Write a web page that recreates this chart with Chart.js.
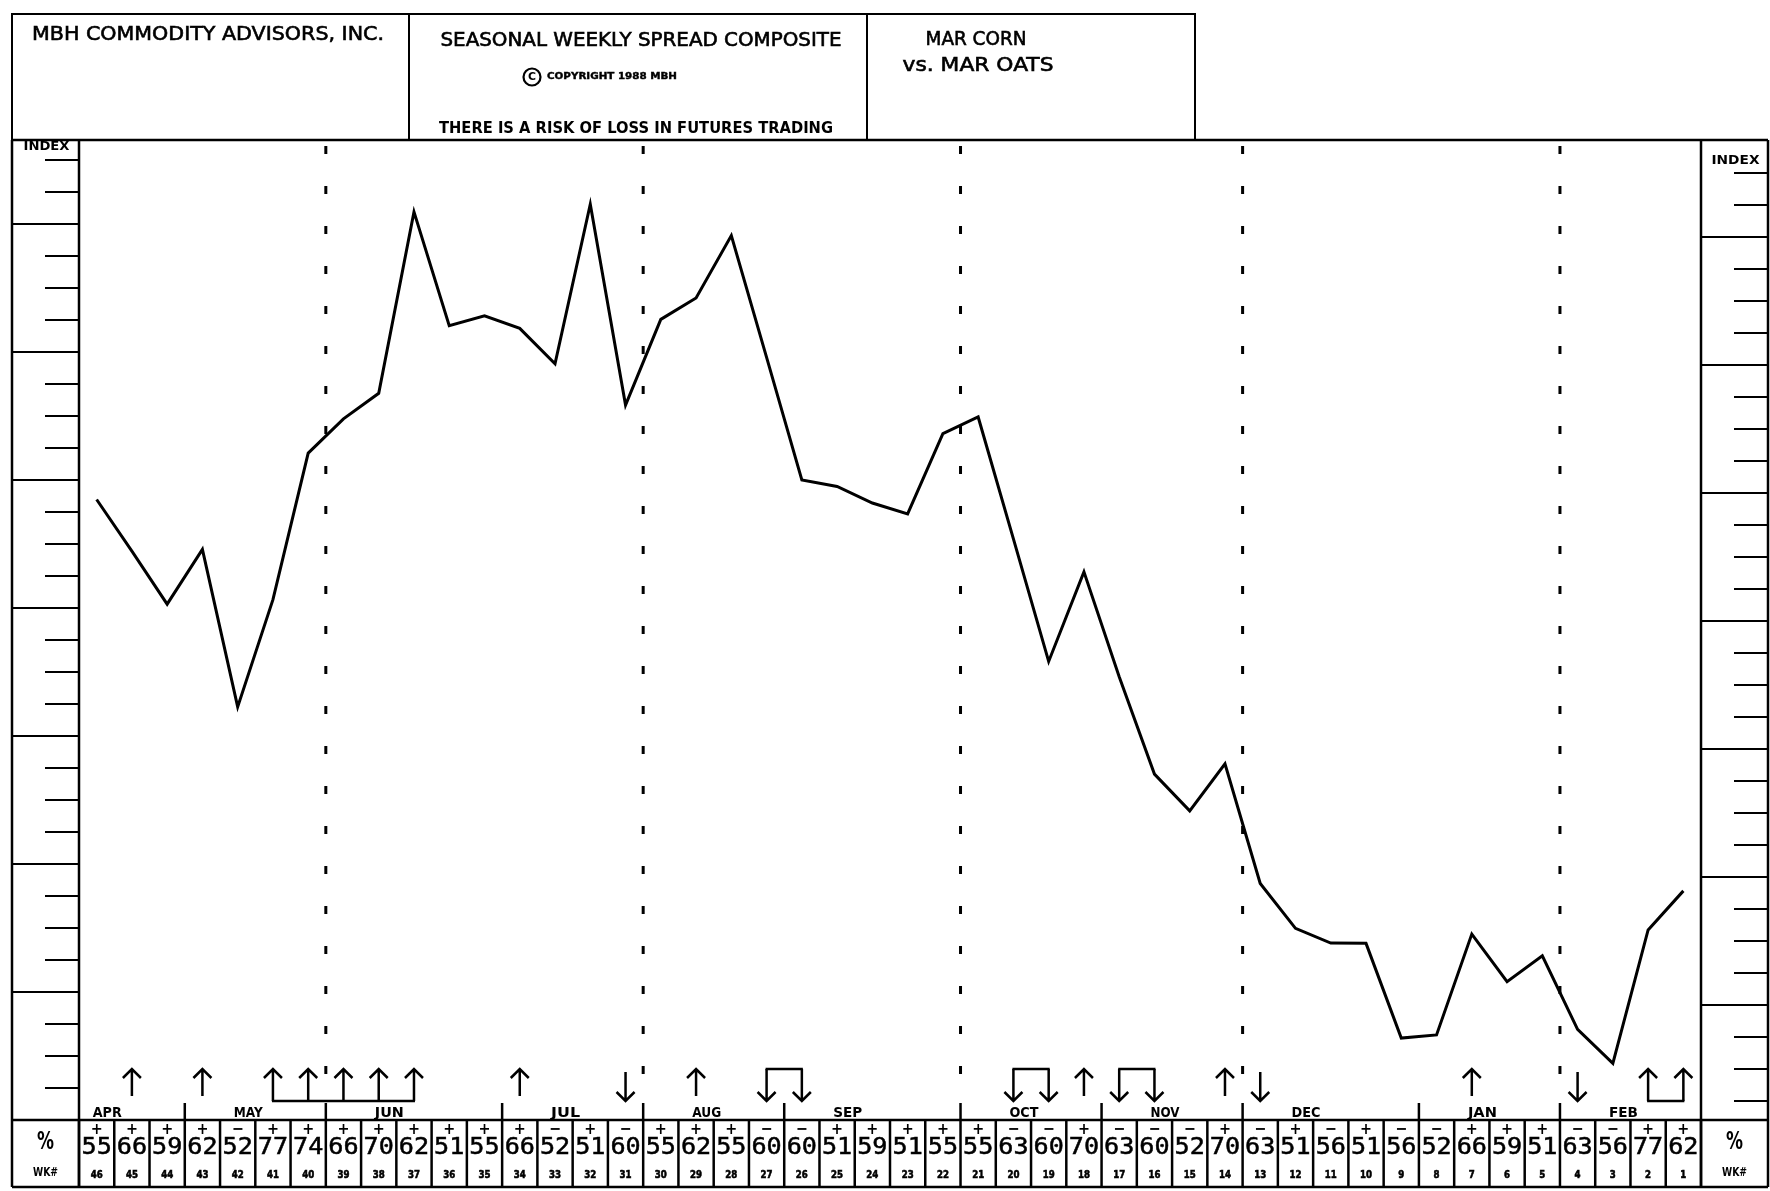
<!DOCTYPE html>
<html>
<head>
<meta charset="utf-8">
<title>Seasonal Weekly Spread Composite - Mar Corn vs. Mar Oats</title>
<script src="https://cdn.jsdelivr.net/npm/chart.js@4/dist/chart.umd.min.js"></script>
<style>
  html, body { margin: 0; padding: 0; background: #fff; }
  canvas { display: block; }
</style>
</head>
<body>
<canvas id="chart" width="1770" height="1191"></canvas>
<script>
// Weeks remaining before expiry, one column per week
const weeks = [46, 45, 44, 43, 42, 41, 40, 39, 38, 37, 36, 35, 34, 33, 32, 31, 30, 29, 28, 27, 26, 25, 24,
               23, 22, 21, 20, 19, 18, 17, 16, 15, 14, 13, 12, 11, 10, 9, 8, 7, 6, 5, 4, 3, 2, 1];

// Seasonal composite index of the spread (one value per week)
const indexValues = [19.39, 17.78, 16.12, 17.83, 12.91, 16.26, 20.84, 21.91, 22.71, 28.38,
                     24.82, 25.13, 24.74, 23.63, 28.62, 22.34, 25.02, 25.69, 27.64, 23.83,
                     20.00, 19.80, 19.28, 18.94, 21.45, 21.97, 18.16, 14.33, 17.13, 13.85,
                     10.81, 9.66, 11.13, 7.39, 5.99, 5.53, 5.52, 2.56, 2.66, 5.81,
                     4.32, 5.13, 2.83, 1.77, 5.94, 7.16];

// Percentage of years the spread moved in the indicated direction that week
const seasonalPct = [55, 66, 59, 62, 52, 77, 74, 66, 70, 62, 51, 55, 66, 52, 51, 60, 55, 62, 55, 60,
                     60, 51, 59, 51, 55, 55, 63, 60, 70, 63, 60, 52, 70, 63, 51, 56, 51, 56, 52, 66,
                     59, 51, 63, 56, 77, 62];
const seasonalSign = ['+', '+', '+', '+', '-', '+', '+', '+', '+', '+', '+', '+', '+', '-', '+', '-',
                      '+', '+', '+', '-', '-', '+', '+', '+', '+', '+', '-', '-', '+', '-', '-', '-',
                      '+', '-', '+', '-', '+', '-', '-', '+', '+', '+', '-', '-', '+', '+'];

// Calendar months and the week column each one starts at
const months = ['APR', 'MAY', 'JUN', 'JUL', 'AUG', 'SEP', 'OCT', 'NOV', 'DEC', 'JAN', 'FEB'];
const monthStart = [-1, 3, 7, 12, 16, 20, 25, 29, 33, 38, 42];

// Y axis: one tick per index unit, heavy division every 4 units
const indexMin = 0;
const indexMax = 30.625;
const majorEvery = 4;

// A week is flagged with an arrow when its percentage reaches this level
const SIGNAL_PCT = 60;

// Form geometry
const F = {
  left: 12, right: 1768,
  headerTop: 14, headerRight: 1195, headerDivs: [409, 867],
  plotTop: 140,
  tableTop: 1120, tableBottom: 1187,
  labelTop: 1103,
  tickLen: 34,
  rightScaleShift: 13   // the right-hand index column sits slightly lower on the form
};

function fitText(ctx, text, cx, cy, width, font, stroke) {
  ctx.save();
  ctx.font = font;
  ctx.textAlign = 'center';
  ctx.textBaseline = 'middle';
  const w = ctx.measureText(text).width;
  ctx.translate(cx, cy);
  if (width && w > 0) ctx.scale(width / w, 1);
  ctx.fillText(text, 0, 0);
  if (stroke) {
    ctx.lineWidth = stroke;
    ctx.strokeText(text, 0, 0);
  }
  ctx.restore();
}

function seg(ctx, x1, y1, x2, y2) {
  ctx.beginPath();
  ctx.moveTo(x1, y1);
  ctx.lineTo(x2, y2);
  ctx.stroke();
}

const formPlugin = {
  id: 'spreadForm',
  beforeDraw(chart) {
    const ctx = chart.ctx;
    ctx.save();
    ctx.fillStyle = '#fff';
    ctx.fillRect(0, 0, chart.width, chart.height);
    ctx.restore();
  },
  beforeDatasetsDraw(chart) {
    // dashed guides at every other month boundary
    const ctx = chart.ctx, xs = chart.scales.x;
    ctx.save();
    ctx.strokeStyle = '#000';
    ctx.lineWidth = 3;
    ctx.setLineDash([8, 32]);
    ctx.lineDashOffset = -6;
    monthStart.forEach((s, m) => {
      if (m === 0 || m % 2 !== 0) return;
      const x = xs.getPixelForValue(s - 0.5);
      seg(ctx, x, F.plotTop, x, F.labelTop);
    });
    ctx.restore();
  },
  afterDatasetsDraw(chart) {
    const ctx = chart.ctx, xs = chart.scales.x, ys = chart.scales.y;
    const area = chart.chartArea;
    const colW = (area.right - area.left) / weeks.length;
    ctx.save();
    ctx.strokeStyle = '#000';
    ctx.fillStyle = '#000';
    ctx.lineCap = 'butt';

    // ---- header boxes ----
    ctx.lineWidth = 2;
    ctx.strokeRect(F.left, F.headerTop, F.headerRight - F.left, F.plotTop - F.headerTop);
    F.headerDivs.forEach(x => seg(ctx, x, F.headerTop, x, F.plotTop));

    const hdr = '19px "DejaVu Sans", sans-serif';
    fitText(ctx, 'MBH COMMODITY ADVISORS, INC.', 208, 35, 352, hdr, 0.6);
    fitText(ctx, 'SEASONAL WEEKLY SPREAD COMPOSITE', 641, 41, 401, hdr, 0.6);
    ctx.lineWidth = 2.2;
    ctx.beginPath(); ctx.arc(532, 77, 8.5, 0, Math.PI * 2); ctx.stroke();
    fitText(ctx, 'C', 532, 77.5, 8, 'bold 11px "DejaVu Sans", sans-serif');
    fitText(ctx, 'COPYRIGHT 1988 MBH', 612, 77, 130, 'bold 9px "DejaVu Sans", sans-serif', 0.4);
    fitText(ctx, 'THERE IS A RISK OF LOSS IN FUTURES TRADING', 636, 129, 394, 'bold 15px "DejaVu Sans", sans-serif');
    fitText(ctx, 'MAR CORN', 976, 40, 101, hdr, 0.6);
    fitText(ctx, 'vs. MAR OATS', 978, 66, 151, hdr, 0.6);

    // ---- plot frame and index columns ----
    ctx.lineWidth = 2.5;
    seg(ctx, F.left, F.plotTop, F.right, F.plotTop);
    seg(ctx, F.left, F.plotTop, F.left, F.tableBottom);
    seg(ctx, area.left, F.plotTop, area.left, F.tableBottom);
    seg(ctx, area.right, F.plotTop, area.right, F.tableBottom);
    seg(ctx, F.right, F.plotTop, F.right, F.tableBottom);

    fitText(ctx, 'INDEX', (F.left + area.left) / 2 + 1, 147, 46, 'bold 13px "DejaVu Sans", sans-serif');
    fitText(ctx, 'INDEX', (area.right + F.right) / 2 + 1, 161, 48, 'bold 13px "DejaVu Sans", sans-serif');

    ctx.lineWidth = 2;
    for (let v = indexMin + 1; v < indexMax; v++) {
      const y = ys.getPixelForValue(v);
      const yr = y + F.rightScaleShift;
      if (v % majorEvery === 0) {
        seg(ctx, F.left, y, area.left, y);
        seg(ctx, area.right, yr, F.right, yr);
      } else {
        seg(ctx, area.left - F.tickLen, y, area.left, y);
        if (yr < F.tableTop - 4) seg(ctx, F.right - F.tickLen, yr, F.right, yr);
      }
    }

    // ---- month label row ----
    ctx.lineWidth = 2.5;
    seg(ctx, F.left, F.tableTop, F.right, F.tableTop);
    seg(ctx, F.left, F.tableBottom, F.right, F.tableBottom);
    ctx.lineWidth = 2.5;
    monthStart.forEach((s, m) => {
      if (m > 0) {
        const x = xs.getPixelForValue(s - 0.5);
        seg(ctx, x, F.labelTop, x, F.tableTop);
      }
      fitText(ctx, months[m], xs.getPixelForValue(s + 1.3), F.tableTop - 7, 29,
              'bold 14px "DejaVu Sans", sans-serif');
    });

    // ---- weekly percentage table ----
    ctx.lineWidth = 2.5;
    for (let i = 0; i <= weeks.length; i++) {
      const x = xs.getPixelForValue(i - 0.5);
      seg(ctx, x, F.tableTop, x, F.tableBottom);
    }
    weeks.forEach((wk, i) => {
      const x = xs.getPixelForValue(i);
      const sign = seasonalSign[i] === '+' ? '+' : '\u2212';
      fitText(ctx, sign, x, 1130, 12, 'bold 16px "DejaVu Sans", sans-serif');
      fitText(ctx, String(seasonalPct[i]), x, 1148, colW - 5, '23px "DejaVu Sans Mono", monospace', 0.5);
      fitText(ctx, String(wk), x, 1175, wk >= 10 ? 12 : 6, 'bold 10px "DejaVu Sans", sans-serif', 0.6);
    });
    [(F.left + area.left) / 2, (area.right + F.right) / 2].forEach(cx => {
      fitText(ctx, '%', cx, 1142, 17, 'bold 25px "DejaVu Sans", sans-serif');
      fitText(ctx, 'WK#', cx, 1173, 25, 'bold 12px "DejaVu Sans", sans-serif');
    });

    // ---- signal arrows (consecutive same-direction weeks share a bracket) ----
    const dir = seasonalPct.map((p, i) => p >= SIGNAL_PCT ? (seasonalSign[i] === '+' ? 'U' : 'D') : '');
    const runs = [];
    dir.forEach((d, i) => {
      if (!d) return;
      const last = runs[runs.length - 1];
      if (last && last.d === d && last.end === i - 1) last.end = i;
      else runs.push({ d, start: i, end: i });
    });
    const yHigh = 1069, yLow = 1101, head = 9;
    ctx.lineWidth = 2.5;
    runs.forEach(r => {
      const grouped = r.end > r.start;
      for (let i = r.start; i <= r.end; i++) {
        const x = xs.getPixelForValue(i);
        ctx.beginPath();
        if (r.d === 'U') {
          ctx.moveTo(x, grouped ? yLow : yLow - 5);
          ctx.lineTo(x, yHigh);
          ctx.moveTo(x - head, yHigh + head);
          ctx.lineTo(x, yHigh);
          ctx.lineTo(x + head, yHigh + head);
        } else {
          ctx.moveTo(x, grouped ? yHigh : yHigh + 3);
          ctx.lineTo(x, yLow);
          ctx.moveTo(x - head, yLow - head);
          ctx.lineTo(x, yLow);
          ctx.lineTo(x + head, yLow - head);
        }
        ctx.stroke();
      }
      if (grouped) {
        const y = r.d === 'U' ? yLow : yHigh;
        seg(ctx, xs.getPixelForValue(r.start) - 1, y, xs.getPixelForValue(r.end) + 1, y);
      }
    });

    ctx.restore();
  }
};

new Chart(document.getElementById('chart'), {
  type: 'line',
  data: {
    labels: weeks.map(String),
    datasets: [{
      label: 'Index',
      data: indexValues,
      borderColor: '#000',
      borderWidth: 3,
      pointRadius: 0,
      tension: 0,
      fill: false
    }]
  },
  options: {
    responsive: false,
    animation: false,
    devicePixelRatio: 1,
    layout: { padding: { left: 79, right: 69, top: F.plotTop, bottom: 1191 - F.tableTop } },
    scales: {
      x: { display: false, offset: true },
      y: { display: false, min: indexMin, max: indexMax }
    },
    plugins: { legend: { display: false }, tooltip: { enabled: false } }
  },
  plugins: [formPlugin]
});
</script>
</body>
</html>
